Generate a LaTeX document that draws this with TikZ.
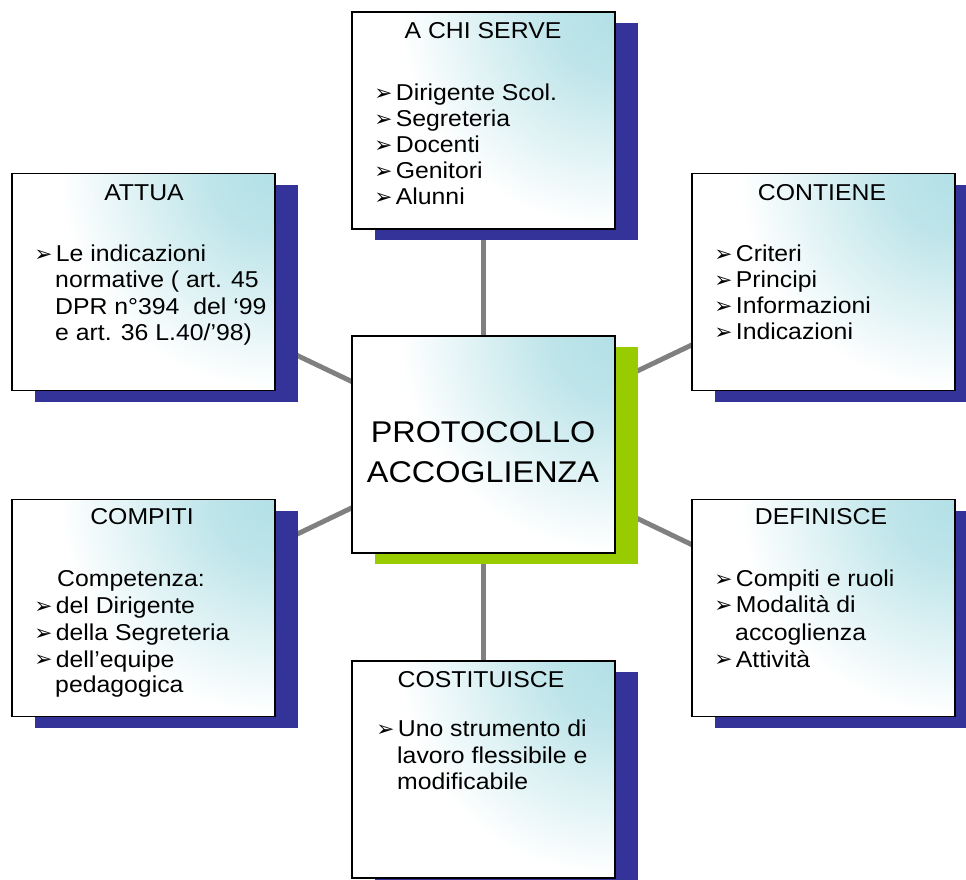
\documentclass[tikz,border=0pt]{standalone}
\usepackage{fontspec}
\setmainfont{Liberation Sans}[FakeStretch=1.08]
\newfontfamily\dvfont{DejaVu Sans}
\usetikzlibrary{shadows,backgrounds}
\definecolor{boxcyan}{RGB}{178,224,230}
\definecolor{shblue}{RGB}{51,51,153}
\definecolor{shgreen}{RGB}{153,204,0}
\definecolor{linkgray}{RGB}{128,128,128}
\pgfdeclareradialshading{cornerfade}{\pgfpointorigin}{color(0bp)=(boxcyan); color(5bp)=(boxcyan!85!white); color(17bp)=(white); color(25bp)=(white); color(50bp)=(white)}
\newcommand{\bl}{\makebox[17.6pt][l]{\hspace{-0.8pt}\raisebox{0.3pt}{\dvfont\fontsize{18.5}{18.5}\selectfont ➢}}}
\tikzset{
  boxbase/.style={draw=black, line width=1.6pt, fill=white, minimum width=7.89cm, minimum height=6.51cm, inner sep=0pt,
    path picture={\shade[shading=cornerfade] (path picture bounding box.north east) circle (9.5cm);}},
  infobox/.style={boxbase, drop shadow={shadow xshift=19.6pt, shadow yshift=-9.4pt, fill=shblue, opacity=1}},
  centerbox/.style={boxbase, drop shadow={shadow xshift=19.6pt, shadow yshift=-9.4pt, fill=shgreen, opacity=1}},
  link/.style={draw=linkgray, line width=4.2pt},
  txt/.style={inner sep=0pt, font=\fontsize{19.6}{22}\selectfont, anchor=base west},
  ttl/.style={inner sep=0pt, font=\fontsize{19.6}{22}\selectfont, anchor=base},
  bigtxt/.style={inner sep=0pt, font=\fontsize{25.6}{30}\selectfont, anchor=base}
}
\begin{document}
\begin{tikzpicture}[x=0.03cm, y=-0.03cm]
\useasboundingbox (0,0) rectangle (966,880);
% boxes
\node[infobox] (serve) at (483.5,120.5) {};
\node[infobox] (attua) at (143.5,282) {};
\node[infobox] (contiene) at (823.5,282) {};
\node[centerbox] (proto) at (483.5,444.5) {};
\node[infobox] (compiti) at (143.5,608) {};
\node[infobox] (definisce) at (823.5,608) {};
\node[infobox] (costituisce) at (483.5,769.5) {};
% connectors
\begin{scope}[on background layer]
\draw[link] (proto.center) -- (serve.center);
\draw[link] (proto.center) -- (attua.center);
\draw[link] (proto.center) -- (contiene.center);
\draw[link] (proto.center) -- (compiti.center);
\draw[link] (proto.center) -- (definisce.center);
\draw[link] (proto.center) -- (costituisce.center);
\end{scope}
% A CHI SERVE
\node[ttl] (serveT) at (483,39) {A CHI SERVE};
\node[txt] (serve1) at (375,101) {\bl Dirigente Scol.};
\node[txt] (serve2) at (375,127) {\bl Segreteria};
\node[txt] (serve3) at (375,153) {\bl Docenti};
\node[txt] (serve4) at (375,179) {\bl Genitori};
\node[txt] (serve5) at (375,205) {\bl Alunni};
% ATTUA
\node[ttl] (attuaT) at (144,201) {ATTUA};
\node[txt] (attua1) at (35,262) {\bl Le indicazioni};
\node[txt] (attua2) at (55,288) {normative ( art. 45};
\node[txt] (attua3) at (55,315) {DPR n°394\ \ del ‘99};
\node[txt] (attua4) at (55,341) {e art. 36 L.40/’98)};
% CONTIENE
\node[ttl] (contT) at (822,201) {CONTIENE};
\node[txt] (cont1) at (715,262) {\bl Criteri};
\node[txt] (cont2) at (715,288) {\bl Principi};
\node[txt] (cont3) at (715,314) {\bl Informazioni};
\node[txt] (cont4) at (715,340) {\bl Indicazioni};
% PROTOCOLLO
\node[bigtxt] (protoA) at (483,443) {PROTOCOLLO};
\node[bigtxt] (protoB) at (483,483) {ACCOGLIENZA};
% COMPITI
\node[ttl] (compT) at (142,525) {COMPITI};
\node[txt] (comp0) at (57,587) {Competenza:};
\node[txt] (comp1) at (35,614) {\bl del Dirigente};
\node[txt] (comp2) at (35,641) {\bl della Segreteria};
\node[txt] (comp3) at (35,667) {\bl dell’equipe};
\node[txt] (comp4) at (55,693) {pedagogica};
% DEFINISCE
\node[ttl] (defT) at (821,525) {DEFINISCE};
\node[txt] (def1) at (715,587) {\bl Compiti e ruoli};
\node[txt] (def2) at (715,613) {\bl Modalità di};
\node[txt] (def3) at (735,640) {accoglienza};
\node[txt] (def4) at (715,667) {\bl Attività};
% COSTITUISCE
\node[ttl] (costT) at (481,687) {COSTITUISCE};
\node[txt] (cost1) at (377,737) {\bl Uno strumento di};
\node[txt] (cost2) at (397,763) {lavoro flessibile e};
\node[txt] (cost3) at (397,789) {modificabile};
\end{tikzpicture}
\end{document}
